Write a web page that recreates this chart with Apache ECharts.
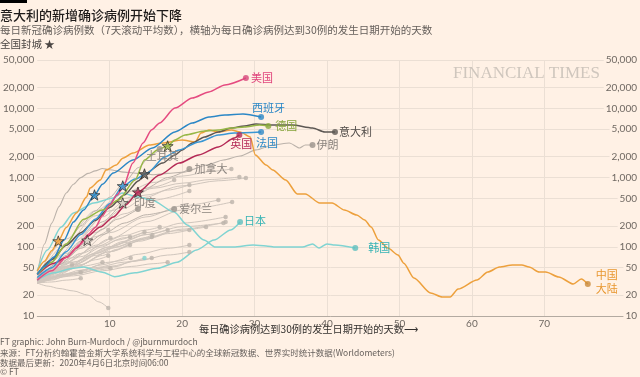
<!DOCTYPE html>
<html><head><meta charset="utf-8">
<script src="https://cdn.jsdelivr.net/npm/echarts@6/dist/echarts.min.js"></script>
<style>html,body{margin:0;padding:0;background:#FFF1E5;}#c{width:640px;height:377px;}</style>
</head><body><div id="c"></div>
<script>
// ---------- tick labels ----------
const yTicks = [10,20,50,100,200,500,1000,2000,5000,10000,20000,50000];
const xTicks = [10,20,30,40,50,60,70];

// ---------- highlighted countries: [day, 7-day avg new cases] ----------
const us = [[0,33],[2,45],[4,70],[6,110],[7,150],[8,190],[9,280],[10,400],[11,560],[11.8,708],[13.2,1620],[14.6,3160],[15.8,4900],[16.9,6170],[19,10100],[21.4,14100],[23.7,17300],[25.9,21800],[28.8,27500]];
const spain = [[0,40],[1,52],[2.3,71],[3.7,125],[5,228],[6.4,340],[7.9,561],[9,800],[10.5,1164],[13.2,1795],[15.9,2680],[19,4560],[21.4,6150],[23.7,7520],[25.9,8030],[28.4,8300],[30.9,7520]];
const france = [[0,36],[2,50],[4,85],[6,150],[8,250],[10,420],[11.8,757],[13.5,950],[15.2,1165],[17.6,1985],[19.6,2510],[22.3,3270],[25,4130],[27.2,4420],[30.9,4560]];
const germany = [[0,40],[2,60],[4,110],[6.4,250],[9,340],[11.2,475],[13.5,922],[14.8,1795],[16.6,2510],[18,2865],[19,3490],[20.4,4130],[23.1,4715],[25,4875],[26.8,5210],[28.6,5400],[30.7,5750],[31.9,5560]];
const italy = [[0,40],[2,65],[4,105],[6,160],[8,240],[10,370],[12,560],[14,900],[14.8,1128],[17.3,1620],[19,2124],[20,2510],[21.4,3160],[23.1,3865],[25,4560],[26.8,5210],[28.6,5570],[30.2,5960],[32.5,5750],[35.2,5750],[38,5210],[39.7,4560],[41.1,4560]];
const uk = [[0,40],[2.3,58],[4.1,71],[5.4,96],[6.8,139],[8.7,193],[10.5,270],[12.2,402],[13.9,615],[16.9,1090],[19.6,1620],[22.3,2124],[25,2770],[27.2,3730],[27.9,4130]];
const china = [[0,45],[1,62],[2,88],[2.9,121],[4,190],[5.4,308],[6.8,525],[7.3,708],[8.7,922],[9.5,1288],[10.9,1515],[11.8,1906],[13.2,2264],[15.5,2953],[17.3,3160],[20,3490],[21.8,3265],[22.6,4415],[23.7,4875],[25,4560],[26.8,4875],[28,4560],[29.4,3865],[30.1,2124],[31.6,1521],[32.5,1288],[34.3,922],[35.9,580],[37,580],[39,430],[40.7,430],[42.4,340],[44.1,288],[45.2,244],[46.1,193],[47.1,125],[48.4,96],[49.8,76],[50.6,58],[52,35.4],[54.3,21.5],[55.9,18.8],[57,18.8],[58.1,24.5],[60.7,33.1],[62.2,43.2],[63.8,51],[65.6,54.6],[66.9,54.6],[67.9,51],[69.3,43.2],[70.2,43.2],[72,36.6],[74,29],[75.1,34.3],[76,29]];
const korea = [[0,45],[1.4,90],[3.3,193],[5,308],[7.8,430],[10.5,507],[11.7,600],[13.9,525],[15.8,475],[18.9,318],[20.7,207],[23,125],[24.6,99],[27.1,99],[29.8,106],[31.6,103],[32.9,99],[36.6,99],[38,110],[38.9,96],[40,110],[41.1,106],[43.9,96]];
const japan = [[0,33],[2.3,42],[5,49],[6.4,51],[9,43],[10.7,37],[13.5,42],[16.6,49],[19.3,60],[22,90],[24.4,125],[26.7,175],[28,228]];
const iran = [[0,40],[1,110],[2,220],[3,380],[4,600],[5,800],[6,1000],[7,1150],[8,1250],[9,1350],[10,1300],[12,1200],[14,1150],[16,1100],[18,1150],[20.3,1200],[23.4,1520],[25.7,1795],[28,2050],[30.2,2510],[32.5,2960],[34.8,3160],[36.2,2680],[37,2960],[38,2960]];
const turkey = [[0,35],[2,60],[4,110],[6,200],[8,330],[10,520],[12,850],[14,1400],[15.5,2000],[16.9,2590]];
const canada = [[0,34],[3,60],[6,120],[9,230],[12,420],[15,700],[18,1000],[21,1330]];
const india = [[0,32],[2,50],[4,75],[6,105],[6.9,124],[9,180],[11,250],[13.9,351]];
const ireland = [[0,33],[3,55],[6,95],[9,150],[12,220],[15,290],[18.9,351]];

// ---------- other countries (unlabelled, grey) ----------
const g1 = [[0,32],[2,48],[4,70],[6,100],[8,140],[9.8,175]];
const g2 = [[0,30],[2,42],[4,58],[6,80],[8,105],[10.1,134]];
const g3 = [[0,34],[3,50],[6,72],[9,100],[11,125],[12.8,139]];
const g4 = [[0,31],[3,40],[6,55],[9,75],[11,92],[12.8,106]];
const g5 = [[0,30],[2,36],[4,45],[6,55],[8,65],[9.8,74]];
const g6 = [[0,32],[3,38],[6,46],[9,55],[11,62],[12.9,69]];
const g7 = [[0,30],[2,33],[4,38],[6,42],[8,46],[10.1,49]];
const g8 = [[0,33],[2,40],[3.5,48],[4.8,55]];
const g9 = [[0,31],[2,35],[4,40],[6,43]];
const g10 = [[0,30],[2,31],[4,33],[6,35]];
const g11 = [[0,30],[1.5,27],[3,25],[5,23],[7,20],[8.5,16],[9.8,13]];
const g12 = [[0,35],[3,55],[6,80],[9,105],[12,135],[14.8,164]];
const g13 = [[0,30],[4,48],[8,75],[11,100],[14,125],[15.8,139]];
const g14 = [[0,33],[4,60],[8,100],[12,145],[15,175],[16.9,193]];
const g15 = [[0,31],[4,50],[8,80],[12,120],[15,150],[18,175]];
const g16 = [[0,30],[5,50],[10,85],[14,120],[18,155],[21,175]];
const g17 = [[0,32],[5,55],[10,95],[15,135],[19,170],[23.3,193]];
const g18 = [[0,34],[5,60],[10,100],[15,150],[20,195],[25.7,221]];
const g19 = [[0,30],[5,42],[10,60],[14,78],[18,95],[21,106]];
const g20 = [[0,31],[5,40],[10,52],[14,63],[18,76],[21,84]];
const g21 = [[0,30],[5,38],[9,45],[13,52],[16,57],[18,60]];
const g22 = [[0,32],[4,40],[8,50],[12,60],[15.8,69]];
const g23 = [[0,33],[3,42],[6,52],[9,60]];
const g24 = [[0,36],[3,75],[6,150],[9,270],[11.8,430],[14,580],[16,730],[18.9,922]];
const g25 = [[0,35],[4,80],[8,190],[12,360],[15,520],[18,660],[21,782]];
const g26 = [[0,33],[4,70],[8,160],[12,300],[16,470],[21,640]];
const g27 = [[0,32],[5,70],[10,160],[15,270],[20,390],[25,475]];
const g28 = [[0,30],[5,60],[10,130],[15,230],[20,340],[26.9,444]];
const g29 = [[0,30],[5,55],[10,100],[15,160],[20,220],[26,270]];
const g30 = [[0,36],[4,110],[8,280],[12,500],[16,700],[20,830],[24,940],[27.9,1021]];
const g31 = [[0,34],[5,120],[10,330],[15,560],[20,760],[25,900],[28.8,987]];
const g32 = [[0,38],[4,130],[8,330],[12,600],[16,850],[20,1050],[24,1230],[26.8,1330]];
const g33 = [[0,31],[5,50],[10,85],[15,130],[20,180],[26,228]];
const g34 = [[0,33],[4,52],[8,80],[12,115],[15.9,148]];
const g35 = [[0,30],[4,38],[8,48],[11,52],[13,62],[14.8,69]];

// ---------- lockdown stars: [day, value] ----------
const lockdownStars = [[2.9,121],[6.9,124],[7.9,561],[11.8,757],[11.8,430],[13.9,615],[14.8,1128],[18,2865]];

// ================= styling / chart =================
const BG = '#FFF1E5';
const CJK = '"Noto Sans CJK SC", sans-serif';
const NUM = 'Lato, "Noto Sans CJK SC", sans-serif';
const GRAY_LINE = '#d0c6bd';
const NAMED_GRAY = '#bbb2aa';
const GRAY_TXT = '#8b847e';
const TEAL_LINE = '#80d4d2';
const TEAL_TXT = '#36b3b4';

const grayLines = [g1,g2,g3,g4,g5,g6,g7,g8,g9,g10,g11,g12,g13,g14,g15,g16,g17,g18,g19,g20,g21,g22,g23,g24,g25,g26,g27,g28,g29,g30,g31,g32,g33,g34,g35];
const starColors = ['#eda03c','#d8cfc6','#2b87c6','#3d9ad6','#d8cfc6','#b52a56','#5c5753','#97b746'];

const labelled = [
  {name:'土耳其', data:turkey, color:NAMED_GRAY, dot:'#9a928b', text:GRAY_TXT, off:[-22,7], w:1},
  {name:'加拿大', data:canada, color:NAMED_GRAY, dot:'#9a928b', text:GRAY_TXT, off:[-3,0], w:1},
  {name:'印度', data:india, color:NAMED_GRAY, dot:'#9a928b', text:GRAY_TXT, off:[-12,-6], w:1},
  {name:'爱尔兰', data:ireland, color:NAMED_GRAY, dot:'#9a928b', text:GRAY_TXT, off:[-3,0], w:1},
  {name:'伊朗', data:iran, color:NAMED_GRAY, dot:'#9a928b', text:GRAY_TXT, off:[-4,0], w:1.1},
  {name:'日本', data:japan, color:TEAL_LINE, dot:'#5fbfbe', text:TEAL_TXT, off:[-4,-1], w:1.5},
  {name:'韩国', data:korea, color:TEAL_LINE, dot:'#5fbfbe', text:TEAL_TXT, off:[5,0], w:1.5},
  {name:'中国\n大陆', data:china, color:'#eda03c', dot:'#c98a3a', text:'#e8962e', off:[0,-2], w:1.5},
  {name:'意大利', data:italy, color:'#5c5753', dot:'#5c5753', text:'#4f4a47', off:[-4,0], w:1.5},
  {name:'英国', data:uk, color:'#b52a56', dot:'#b52a56', text:'#b52a56', off:[-17,9], w:1.5},
  {name:'法国', data:france, color:'#3a97d4', dot:'#2f8ac7', text:'#2f8ac7', off:[-13,11], w:1.5},
  {name:'德国', data:germany, color:'#97b746', dot:'#8aa83c', text:'#86a33a', off:[-1,0], w:1.5},
  {name:'西班牙', data:spain, color:'#2b87c6', dot:'#2b87c6', text:'#2b87c6', off:[-17,-9], w:1.5},
  {name:'美国', data:us, color:'#e54b80', dot:'#d7467a', text:'#e0457c', off:[-3,0], w:1.5}
];

const series = [];
grayLines.forEach((d,i) => {
  series.push({type:'line', data:d, smooth:0.3, smoothMonotone:'x', showSymbol:false, silent:true, z:2,
    lineStyle:{color:GRAY_LINE, width:1}});
});
labelled.forEach(s => {
  series.push({type:'line', name:s.name, data:s.data, smooth:0.25, smoothMonotone:'x', showSymbol:false, silent:true, z:4,
    lineStyle:{color:s.color, width:s.w},
    endLabel:{show:true, formatter:s.name, color:s.text, fontSize:11, fontFamily:CJK, lineHeight:14, offset:s.off}});
});
// end dots
const grayEnds = grayLines.map((d,i) => ({value:d[d.length-1], itemStyle:{color: i===grayLines.length-1 ? '#7fd3d0' : '#bdb4ab'}}));
series.push({type:'scatter', data:grayEnds, symbolSize:4.5, z:5, silent:true});
const namedEnds = labelled.map(s => ({value:s.data[s.data.length-1], itemStyle:{color:s.dot}}));
series.push({type:'scatter', data:namedEnds, symbolSize:6, z:6, silent:true});
// lockdown stars
const starPath = 'path://M0,-10L2.35,-3.24L9.51,-3.09L3.8,1.24L5.88,8.09L0,4L-5.88,8.09L-3.8,1.24L-9.51,-3.09L-2.35,-3.24Z';
series.push({type:'scatter', symbol:starPath, symbolKeepAspect:true, symbolSize:11, z:8, silent:true,
  data: lockdownStars.map((p,i) => ({value:p, itemStyle:{color:starColors[i], borderColor:'#2b2826', borderWidth:0.9}}))});

const yPos = yTicks.map(v => Math.log10(v));
const yFmt = v => Math.round(Math.pow(10, v)).toLocaleString('en-US');
const yMax = Math.log10(50000);

const footer = [
  'FT graphic: John Burn-Murdoch / @jburnmurdoch',
  '来源：FT分析约翰霍普金斯大学系统科学与工程中心的全球新冠数据、世界实时统计数据(Worldometers)',
  '数据最后更新：2020年4月6日北京时间06:00',
  '© FT'
];
const footerY = [342, 353, 363, 372];

const chart = echarts.init(document.getElementById('c'), null, {renderer:'canvas'});
chart.setOption({
  backgroundColor: BG,
  animation: false,
  grid: {left:31, right:14, top:60, bottom:61},
  xAxis: {type:'value', min:0, max:81,
    axisLine:{show:true, lineStyle:{color:'#b3aaa1', width:1}},
    axisTick:{show:false, customValues:xTicks},
    axisLabel:{customValues:xTicks, margin:3, fontSize:10, color:'#6f6862', fontFamily:NUM},
    splitLine:{show:true, lineStyle:{color:'#ebdfd4', width:1}}},
  yAxis: [
    {type:'log', logBase:10, min:10, max:50000, show:false, position:'left'},
    {type:'value', min:1, max:yMax, position:'left',
      axisLine:{show:false}, axisTick:{show:false, customValues:yPos},
      axisLabel:{customValues:yPos, formatter:yFmt, margin:3, fontSize:10, color:'#6f6862', fontFamily:NUM},
      splitLine:{show:true, lineStyle:{color:'#ebdfd4', width:1}}},
    {type:'value', min:1, max:yMax, position:'right',
      axisLine:{show:false}, axisTick:{show:false, customValues:yPos},
      axisLabel:{customValues:yPos, formatter:yFmt, margin:13, align:'right', fontSize:10, color:'#6f6862', fontFamily:NUM,
        backgroundColor:BG, padding:[0,0,0,2]},
      splitLine:{show:false}}
  ],
  graphic: [
    {type:'rect', x:0, y:0, shape:{width:27, height:3}, style:{fill:'#000'}},
    {type:'text', x:0, y:15, style:{text:'意大利的新增确诊病例开始下降', font:'500 13px ' + CJK, fill:'#1e1b1a', verticalAlign:'middle'}},
    {type:'text', x:0, y:30, style:{text:'每日新冠确诊病例数（7天滚动平均数），横轴为每日确诊病例达到30例的发生日期开始的天数', font:'10.5px ' + CJK, fill:'#66605c', verticalAlign:'middle'}},
    {type:'text', x:0, y:44, style:{text:'全国封城 ★', font:'10.5px ' + CJK, fill:'#4a4542', verticalAlign:'middle'}},
    {type:'text', x:453, y:74, z:1, style:{text:'FINANCIAL TIMES', font:'17px "Liberation Serif", "DejaVu Serif", serif', fill:'#cfc6bd', verticalAlign:'middle'}},
    {type:'text', x:199, y:329, style:{text:'每日确诊病例达到30例的发生日期开始的天数⟶', font:'10.2px ' + CJK, fill:'#33302e', verticalAlign:'middle'}}
  ].concat(footer.map((t,i) => ({type:'text', x:0, y:footerY[i], style:{text:t, font:'8.5px ' + CJK, fill:'#66605c', verticalAlign:'middle'}}))),
  series: series
});
</script>
</body></html>
